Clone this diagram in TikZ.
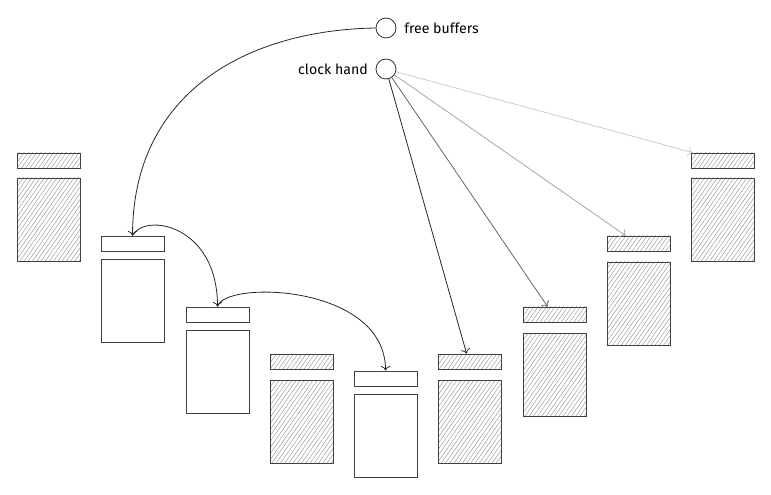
\documentclass[tikz,border=0pt]{standalone}
\usepackage{fontspec}
\setmainfont{Fira Sans}
\usetikzlibrary{arrows.meta,patterns.meta}
\begin{document}
\begin{tikzpicture}[x=0.75pt,y=-0.75pt,
  boxbase/.style={draw=black!75, line width=0.6pt, inner sep=0pt, minimum width=47.25pt},
  header/.style={boxbase, minimum height=11.25pt},
  body/.style={boxbase, minimum height=62.25pt},
  hatched/.style={pattern={Lines[angle=55,distance=2.6pt,line width=0.35pt]}, pattern color=black!40},
  blankbox/.style={fill=white},
  ring/.style={draw=black!80, line width=0.6pt, circle, minimum size=15pt, inner sep=0pt},
  lbl/.style={font=\fontsize{10.6}{13}\selectfont, inner sep=0pt},
  arr/.style={-{To[length=3.5pt,width=7pt]}, line width=0.6pt, draw=black!85}
]
\useasboundingbox (0,0) rectangle (771,495);
\foreach \n/\x/\hy/\by/\s in {1/17/153/178/hatched, 2/101/236/259/blankbox, 3/186/307/330/blankbox,
  4/270/354/380/hatched, 5/354/371/394/blankbox, 6/438/354/380/hatched,
  7/523/307/333/hatched, 8/607/236/262/hatched, 9/691/153/178/hatched}{
  \node[header,\s] (h\n) at (\x+31.5,\hy+7.5) {};
  \node[body,\s] (b\n) at (\x+31.5,\by+41.5) {};
}
\node[ring] (fb) at (386,28) {};
\node[ring] (ch) at (386,69) {};
\node[lbl, anchor=west] (fbl) at (404,28) {free buffers};
\node[lbl, anchor=east] (chl) at (368,69) {clock hand};

\draw[arr] (fb.west) .. controls (250,30) and (133,90) .. (h2.north);
\draw[arr] (h2.north) .. controls (145,212) and (217.5,225) .. (h3.north);
\draw[arr] (h3.north) .. controls (224,280) and (385.5,284) .. (h5.north);

\draw[arr, draw=black!85] (ch) -- ([xshift=21.75pt]h6.north west);
\draw[arr, draw=black!60] (ch) -- ([xshift=18.75pt]h7.north west);
\draw[arr, draw=black!35] (ch) -- ([xshift=14.25pt]h8.north west);
\draw[arr, draw=black!20] (ch) -- ([xshift=1.5pt]h9.north west);
\end{tikzpicture}
\end{document}
